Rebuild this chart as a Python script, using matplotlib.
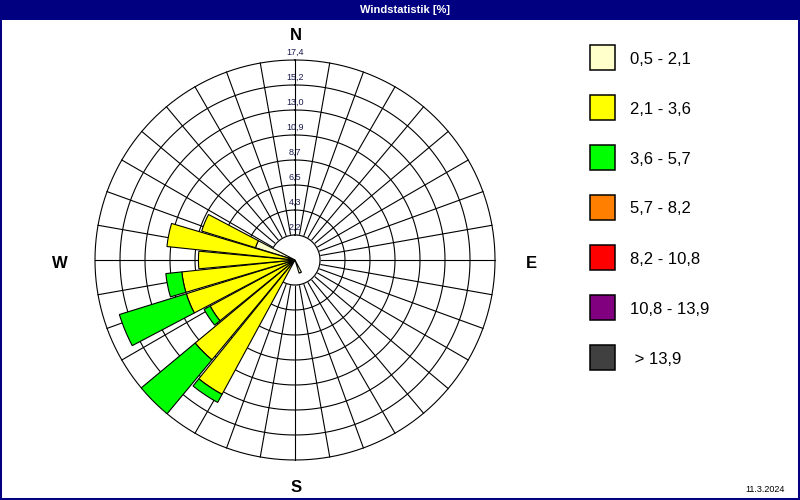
import numpy as np
import matplotlib
matplotlib.use('Agg')
import matplotlib.pyplot as plt
from matplotlib.patches import Rectangle

# ---------------- data ----------------
# 32 compass directions (degrees, clockwise from north)
directions = [i * 11.25 for i in range(32)]

# frequency [%] per speed class (segments, stacked outward)
cls_05_21 = [0, 0, 0, 0, 0, 0, 0, 0, 0, 0, 0, 0, 0, 0, 1.2, 0,
             0, 0, 0, 0, 0, 0, 0, 0, 0, 0.5, 3.6, 0, 0, 0, 0, 0]
cls_21_36 = [0, 0, 0, 0, 0, 0, 0, 0, 0, 0, 0, 0, 0, 0, 0, 0,
             0, 0, 0, 13.3, 11.3, 8.4, 9.9, 9.9, 8.4, 10.7, 4.9, 0, 0, 0, 0, 0]
cls_36_57 = [0, 0, 0, 0, 0, 0, 0, 0, 0, 0, 0, 0, 0, 0, 0, 0,
             0, 0, 0, 0.8, 6.1, 0.6, 6.1, 1.4, 0, 0, 0, 0, 0, 0, 0, 0]
cls_57_82 = [0] * 32
cls_82_108 = [0] * 32
cls_108_139 = [0] * 32
cls_139 = [0] * 32

classes = [cls_05_21, cls_21_36, cls_36_57, cls_57_82, cls_82_108, cls_108_139, cls_139]
class_labels = ["0,5 - 2,1", "2,1 - 3,6", "3,6 - 5,7", "5,7 - 8,2",
                "8,2 - 10,8", "10,8 - 13,9", " > 13,9"]
class_colors = ["#FFFFCC", "#FFFF00", "#00FF00", "#FF8000",
                "#FF0000", "#800080", "#404040"]

ring_values = [2.175, 4.35, 6.525, 8.7, 10.875, 13.05, 15.225, 17.4]
ring_labels = ["2,2", "4,3", "6,5", "8,7", "10,9", "13,0", "15,2", "17,4"]
r_max = 17.4

title = "Windstatistik [%]"
date_text = "11.3.2024"

# ---------------- figure ----------------
W, H = 800, 500
fig = plt.figure(figsize=(8, 5), dpi=100)
fig.patch.set_facecolor('white')
FONT = ['Liberation Sans', 'DejaVu Sans']

# title bar
fig.add_artist(Rectangle((0, 1 - 20 / H), 1, 20 / H, transform=fig.transFigure,
                         facecolor='#000080', edgecolor='none', zorder=0))
fig.text(405 / W, 1 - 10 / H, title, color='white', fontsize=8, fontweight='bold',
         ha='center', va='center', family=FONT)
# frame
fig.add_artist(Rectangle((0, 0), 1, 1, transform=fig.transFigure,
                         facecolor='none', edgecolor='#000080', lw=2.9, zorder=10))

# polar axes: centre (295, 260), radius 200 px
cx, cy, R = 295, 260, 200
ax = fig.add_axes([(cx - R) / W, (H - cy - R) / H, 2 * R / W, 2 * R / H],
                  projection='polar')
ax.set_theta_zero_location('N')
ax.set_theta_direction(-1)
ax.set_ylim(0, r_max)
ax.set_axis_off()

lw = 0.8
th_full = np.linspace(0, 2 * np.pi, 721)
# spokes every 10 degrees
for d in range(0, 360, 10):
    t = np.deg2rad(d)
    ax.plot([t, t], [ring_values[0], r_max], color='k', lw=lw, zorder=1, clip_on=False)
# rings
for rv in ring_values:
    ax.plot(th_full, [rv] * len(th_full), color='k', lw=lw, zorder=1, clip_on=False)
# white calm circle
ax.fill(th_full, [ring_values[0]] * len(th_full), color='white', zorder=2)
ax.plot(th_full, [ring_values[0]] * len(th_full), color='k', lw=lw, zorder=3)

# stacked bars
theta = np.deg2rad(directions)
width = np.deg2rad(10.5)
bottom = np.zeros(32)
for vals, col in zip(classes, class_colors):
    v = np.array(vals, dtype=float)
    m = v > 0
    if m.any():
        ax.bar(theta[m], v[m], width=width, bottom=bottom[m], color=col,
               edgecolor='k', linewidth=lw, zorder=4, align='center')
    bottom += v

# ring labels along north axis
for rv, lab in zip(ring_values, ring_labels):
    ypix = cy - rv / r_max * R - 8
    fig.text(cx / W, 1 - ypix / H, lab, fontsize=6.5, color='#1a1a50',
             ha='center', va='center', family=FONT, zorder=6)

# compass letters
for lab, x, y in [("N", 296, 35), ("S", 296, 488), ("W", 60, 264), ("E", 531, 264)]:
    fig.text(x / W, 1 - y / H, lab, fontsize=12, fontweight='bold', color='black',
             ha='center', va='center', family=FONT)

# legend
for k, (lab, col) in enumerate(zip(class_labels, class_colors)):
    top = 45 + 50 * k
    fig.add_artist(Rectangle((590 / W, 1 - (top + 25) / H), 25 / W, 25 / H,
                             transform=fig.transFigure, facecolor=col,
                             edgecolor='black', lw=1.1))
    fig.text(630 / W, 1 - (top + 14) / H, lab, fontsize=12, color='black',
             ha='left', va='center', family=FONT)

fig.text(765 / W, 1 - 489 / H, date_text, fontsize=6.5, color='black',
         ha='center', va='center', family=FONT)

fig.savefig('out.png', dpi=100)
